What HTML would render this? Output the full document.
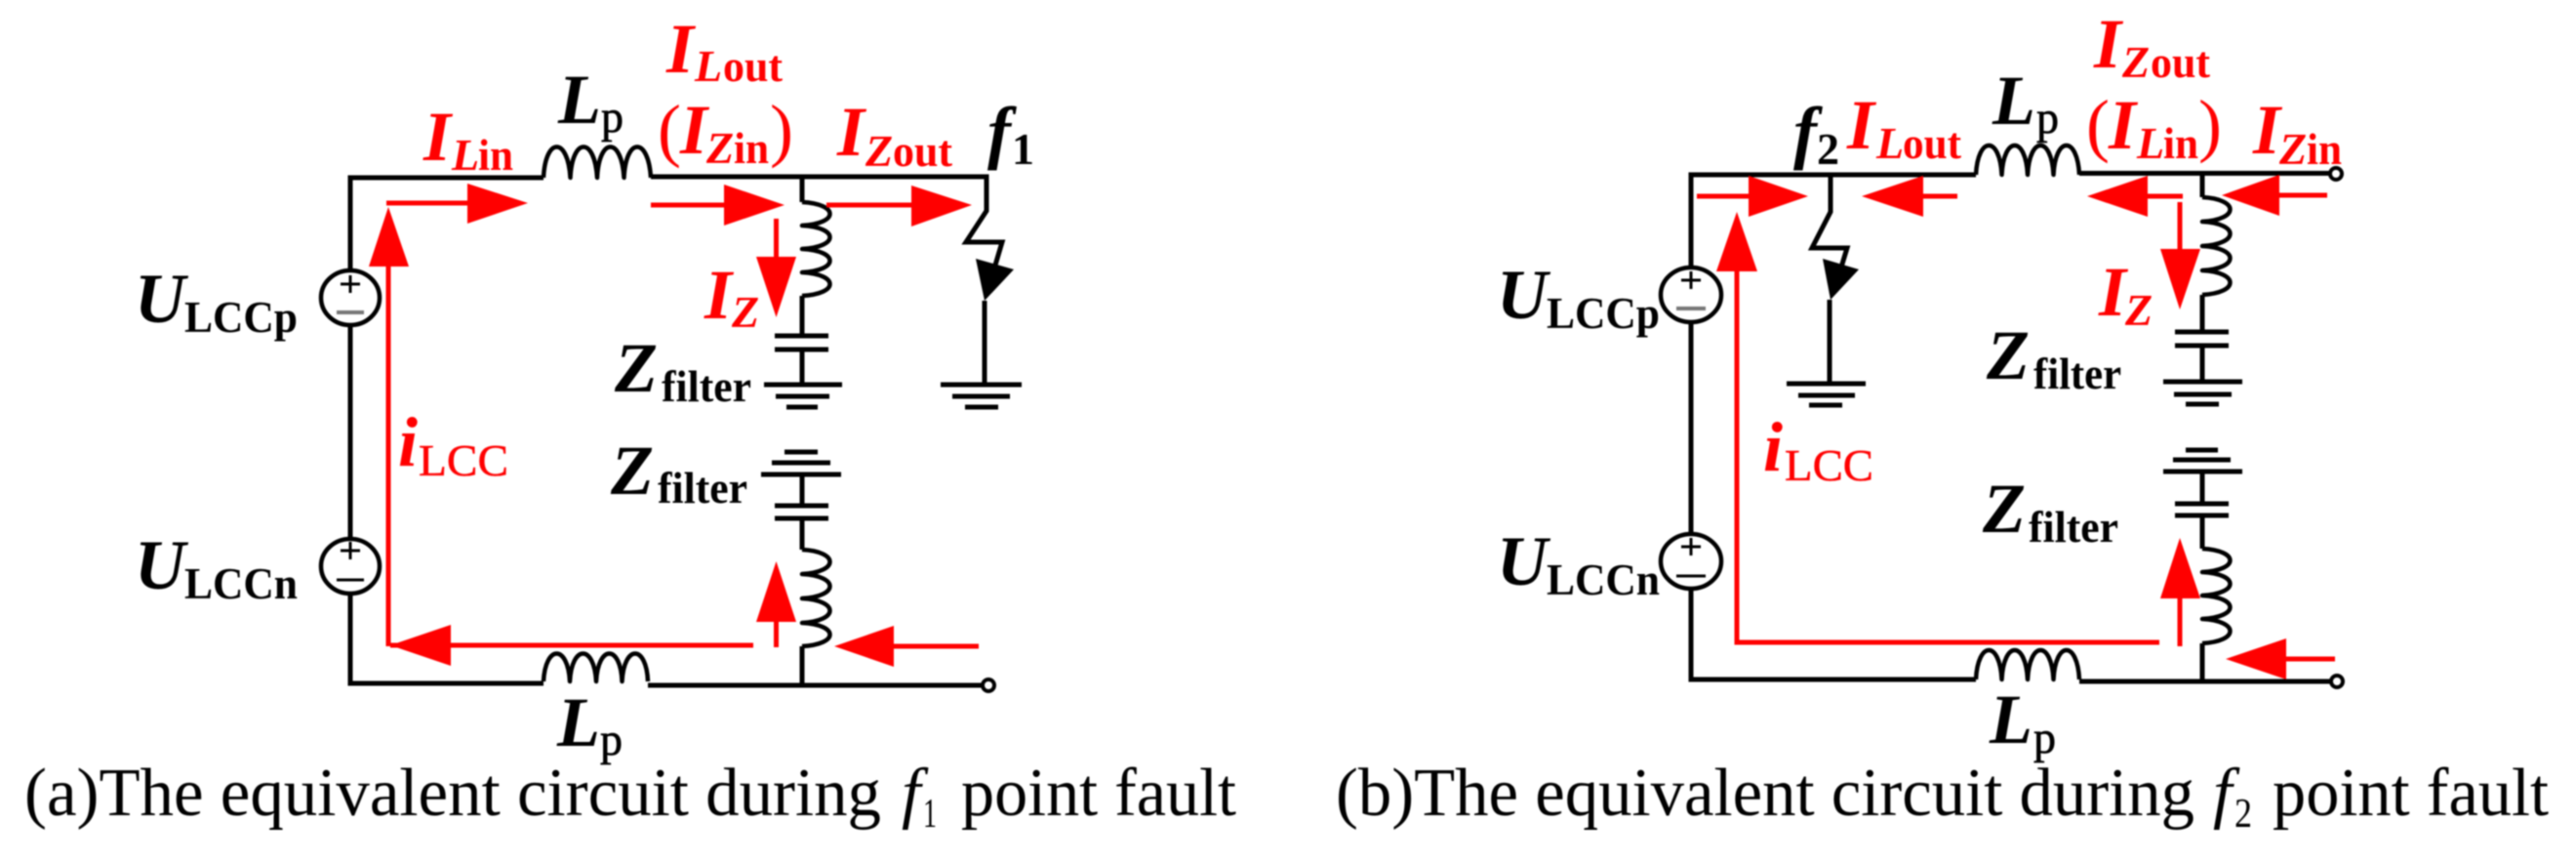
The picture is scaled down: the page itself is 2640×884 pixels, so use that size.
<!DOCTYPE html>
<html><head><meta charset="utf-8"><style>
html,body{margin:0;padding:0;background:#fff}
svg{display:block}
text{font-family:"Liberation Serif",serif}
.I{font-size:72px;font-weight:bold;font-style:italic}
.S{font-size:46px;font-weight:bold}
.Si{font-size:46px;font-weight:bold;font-style:italic}
.P{font-size:47px;stroke:#000;stroke-width:.7}
.R{fill:#f00}
.Pn{font-size:72px;fill:#f00}
.LC{font-size:46px;fill:#f00;stroke:#f00;stroke-width:.5}
.C{font-size:70px}
.w{fill:none;stroke:#000;stroke-width:5}
.c{fill:none;stroke:#000;stroke-width:4.500;stroke-linejoin:round}
.r{fill:none;stroke:#f00;stroke-width:5}
.h{fill:#f00;stroke:none}
.g{stroke:#000;stroke-width:5;fill:none}
</style></head><body>
<svg width="2640" height="884" viewBox="0 0 2640 884" xmlns="http://www.w3.org/2000/svg">
<g style="filter:blur(0.7px)">
<!-- PANEL A wires -->
<path class="w" d="M557 182H359V277M359 333V552M359 608V700H557"/>
<path class="w" d="M667 181H1011V216L990 248H1027L1019 275"/>
<path class="w" d="M664 702H1007"/>
<path class="w" d="M822 181V207M822 303V344M822 358V394M822 486V518M822 531V563M822 662V702M1009 308V394"/>
<path class="c" d="M557 182c2,-42 25,-42 27.5,0c2,-42 25,-42 27.5,0c2,-42 25,-42 27.5,0c2,-42 25,-42 27.5,0"/>
<path class="c" d="M557 698c2,-38 25,-38 27,0c2,-38 25,-38 27,0c2,-38 25,-38 26.500,0c2,-38 25,-38 26.500,0"/>
<path class="c" d="M822 207c38,2 38,22 0,24c38,2 38,22 0,24c38,2 38,22 0,24c38,2 38,22 0,24"/>
<path class="c" d="M822 563c38,2 38,23 0,25c38,2 38,23 0,25c38,2 38,23 0,25c38,2 38,22 0,24"/>
<ellipse class="c" cx="359" cy="305" rx="30" ry="28"/>
<ellipse class="c" cx="359" cy="580" rx="30" ry="28"/>
<path stroke="#000" stroke-width="3" fill="none" d="M349 291H369M359 282V300"/>
<path stroke="#777" stroke-width="4" fill="none" d="M345 320H373"/>
<path stroke="#000" stroke-width="3" fill="none" d="M349 564H369M359 555V573M345 594H373"/>
<path class="g" d="M794 344H849M794 358H849M783 394H863M795 406H850M806 417H838"/>
<path class="g" d="M804 463H838M791 474H851M780 486H862M794 518H849M794 531H849"/>
<path class="g" d="M964 394H1047M976 406H1035M989 417H1023"/>
<path fill="#000" d="M1000 265L1039 276L1009 308Z"/>
<circle cx="1013" cy="702" r="6" fill="#fff" stroke="#000" stroke-width="4"/>
<!-- PANEL A red -->
<path class="r" d="M398 273V662M772 661H400M396 208H480M667 210H743M847 210H935M795.500 224V264M795.500 663V636M1003 662H915"/>
<path class="h" d="M398 212L419 273H378Z"/>
<path class="h" d="M541 208L479 188V229Z"/>
<path class="h" d="M804 210L742 189V231Z"/>
<path class="h" d="M996 210L934 190V232Z"/>
<path class="h" d="M795.500 325L775 263H816Z"/>
<path class="h" d="M400 661L462 640V682Z"/>
<path class="h" d="M795.500 575L816 637H775Z"/>
<path class="h" d="M855 662L916 641V683Z"/>
<!-- PANEL A text -->
<text class="I R" x="434" y="164">I</text><text class="Si R" x="463" y="174">L</text><text class="S R" x="490" y="174" textLength="36" lengthAdjust="spacingAndGlyphs">in</text>
<text class="I" x="572" y="126">L</text><text class="P" x="616" y="135" textLength="23" lengthAdjust="spacingAndGlyphs">p</text>
<text class="I R" x="683" y="74">I</text><text class="Si R" x="712" y="83">L</text><text class="S R" x="741" y="83" textLength="61" lengthAdjust="spacingAndGlyphs">out</text>
<text class="Pn" x="674" y="157">(</text><text class="I R" x="697" y="157">I</text><text class="Si R" x="724" y="167">Z</text><text class="S R" x="752" y="167" textLength="36" lengthAdjust="spacingAndGlyphs">in</text><text class="Pn" x="789" y="157">)</text>
<text class="I R" x="858" y="159">I</text><text class="Si R" x="887" y="170">Z</text><text class="S R" x="915" y="170" textLength="61" lengthAdjust="spacingAndGlyphs">out</text>
<text class="I" x="1012" y="159">f</text><text class="S" x="1037" y="168">1</text>
<text class="I R" x="722" y="326">I</text><text class="Si R" x="750" y="335">Z</text>
<text class="I" x="630" y="401">Z</text><text class="S" x="678" y="411" textLength="92" lengthAdjust="spacingAndGlyphs">filter</text>
<text class="I" x="626" y="506">Z</text><text class="S" x="674" y="515" textLength="92" lengthAdjust="spacingAndGlyphs">filter</text>
<text class="I R" x="408" y="477">i</text><text class="LC" x="429" y="487" textLength="92" lengthAdjust="spacingAndGlyphs">LCC</text>
<text class="I" x="571" y="764">L</text><text class="P" x="615" y="773" textLength="23" lengthAdjust="spacingAndGlyphs">p</text>
<text class="I" x="138" y="330">U</text><text class="S" x="189" y="340" textLength="116" lengthAdjust="spacingAndGlyphs">LCCp</text>
<text class="I" x="138" y="603">U</text><text class="S" x="189" y="613" textLength="116" lengthAdjust="spacingAndGlyphs">LCCn</text>
<text class="C" x="25" y="835" textLength="878" lengthAdjust="spacingAndGlyphs">(a)The equivalent circuit during</text>
<text class="C" x="924" y="835" style="font-style:italic">f</text><text x="946" y="847" style="font-size:42px" textLength="14" lengthAdjust="spacingAndGlyphs">1</text>
<text class="C" x="985" y="835" textLength="282" lengthAdjust="spacingAndGlyphs">point fault</text>

<!-- PANEL B wires -->
<path class="w" d="M2025 179H1733V274M1733 330V548M1733 603V696H2025"/>
<path class="w" d="M2131 177.500H2389"/>
<path class="w" d="M2131 698H2390"/>
<path class="w" d="M1876 179V217L1857 254H1893L1886 277M1875 307V393"/>
<path class="w" d="M2257 178V202M2257 302V340M2257 354V391M2257 483V516M2257 528V562M2257 659V698"/>
<path class="c" d="M2025 179c2,-40 24.500,-40 26.500,0c2,-40 24.500,-40 26.500,0c2,-40 24.500,-40 26.500,0c2,-40 24.500,-40 26.500,0"/>
<path class="c" d="M2025 696c2,-40 24.500,-40 26.500,0c2,-40 24.500,-40 26.500,0c2,-40 24.500,-40 26.500,0c2,-40 24.500,-40 26.500,0"/>
<path class="c" d="M2257 202c38,2 38,23 0,25c38,2 38,23 0,25c38,2 38,23 0,25c38,2 38,23 0,25"/>
<path class="c" d="M2257 562c38,2 38,22 0,24c38,2 38,22 0,24c38,2 38,22 0,24c38,2 38,23 0,25"/>
<ellipse class="c" cx="1733" cy="302" rx="31" ry="28"/>
<ellipse class="c" cx="1733" cy="575" rx="31" ry="28"/>
<path stroke="#000" stroke-width="3" fill="none" d="M1723 287H1743M1733 278V296"/>
<path stroke="#777" stroke-width="4" fill="none" d="M1718 316H1748"/>
<path stroke="#000" stroke-width="3" fill="none" d="M1723 560H1743M1733 551V569M1718 590H1748"/>
<path class="g" d="M2229 340H2284M2229 354H2284M2217 391H2298M2228 404H2287M2240 414H2274"/>
<path class="g" d="M2240 461H2273M2227 471H2286M2217 483H2298M2229 516H2284M2229 528H2284"/>
<path class="g" d="M1831 393H1912M1843 405H1901M1854 415H1888"/>
<path fill="#000" d="M1868 265L1905 276L1876 307Z"/>
<circle cx="2394" cy="178" r="6" fill="#fff" stroke="#000" stroke-width="4"/>
<circle cx="2395" cy="698" r="6" fill="#fff" stroke="#000" stroke-width="4"/>
<!-- PANEL B red -->
<path class="r" d="M1780 278V658H2213M2234 662V612M2234 207V256M1739 201H1793M2006 201H1970M2237 201H2200M2385 200H2335M2393 675H2342"/>
<path class="h" d="M1780 217L1801 278H1759Z"/>
<path class="h" d="M1853 201L1792 180V222Z"/>
<path class="h" d="M1908 201L1971 180V222Z"/>
<path class="h" d="M2139 201L2201 180V222Z"/>
<path class="h" d="M2277 200L2336 179V221Z"/>
<path class="h" d="M2234 317L2214 255H2255Z"/>
<path class="h" d="M2234 551L2255 613H2214Z"/>
<path class="h" d="M2281 675L2343 654V696Z"/>
<!-- PANEL B text -->
<text class="I" x="1838" y="159">f</text><text class="S" x="1862" y="168">2</text>
<text class="I R" x="1893" y="152">I</text><text class="Si R" x="1923" y="162">L</text><text class="S R" x="1950" y="162" textLength="60" lengthAdjust="spacingAndGlyphs">out</text>
<text class="I" x="2042" y="127">L</text><text class="P" x="2087" y="136" textLength="23" lengthAdjust="spacingAndGlyphs">p</text>
<text class="I R" x="2146" y="69">I</text><text class="Si R" x="2175" y="79">Z</text><text class="S R" x="2204" y="79" textLength="61" lengthAdjust="spacingAndGlyphs">out</text>
<text class="Pn" x="2138" y="152">(</text><text class="I R" x="2161" y="152">I</text><text class="Si R" x="2190" y="162">L</text><text class="S R" x="2217" y="162" textLength="36" lengthAdjust="spacingAndGlyphs">in</text><text class="Pn" x="2253" y="152">)</text>
<text class="I R" x="2309" y="157">I</text><text class="Si R" x="2336" y="168">Z</text><text class="S R" x="2364" y="168" textLength="36" lengthAdjust="spacingAndGlyphs">in</text>
<text class="I R" x="2151" y="323">I</text><text class="Si R" x="2178" y="333">Z</text>
<text class="I" x="2036" y="388">Z</text><text class="S" x="2084" y="398" textLength="90" lengthAdjust="spacingAndGlyphs">filter</text>
<text class="I" x="2032" y="545">Z</text><text class="S" x="2079" y="555" textLength="92" lengthAdjust="spacingAndGlyphs">filter</text>
<text class="I R" x="1807" y="482">i</text><text class="LC" x="1829" y="492" textLength="91" lengthAdjust="spacingAndGlyphs">LCC</text>
<text class="I" x="2039" y="761">L</text><text class="P" x="2084" y="771" textLength="23" lengthAdjust="spacingAndGlyphs">p</text>
<text class="I" x="1534" y="326">U</text><text class="S" x="1585" y="336" textLength="116" lengthAdjust="spacingAndGlyphs">LCCp</text>
<text class="I" x="1534" y="599">U</text><text class="S" x="1585" y="609" textLength="116" lengthAdjust="spacingAndGlyphs">LCCn</text>
<text class="C" x="1369" y="835" textLength="880" lengthAdjust="spacingAndGlyphs">(b)The equivalent circuit during</text>
<text class="C" x="2268" y="835" style="font-style:italic">f</text><text x="2290" y="847" style="font-size:42px" textLength="18" lengthAdjust="spacingAndGlyphs">2</text>
<text class="C" x="2329" y="835" textLength="283" lengthAdjust="spacingAndGlyphs">point fault</text>
</g>
</svg>
</body></html>
